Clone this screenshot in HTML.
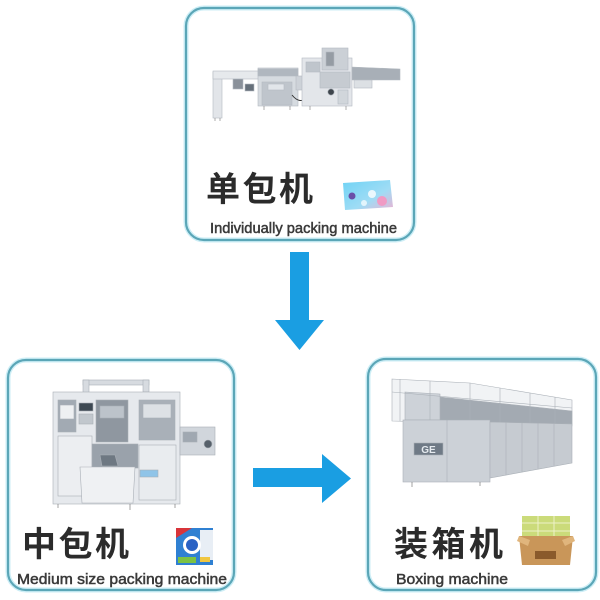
<!DOCTYPE html>
<html><head><meta charset="utf-8"><style>
html,body{margin:0;padding:0;background:#fff;width:600px;height:600px;overflow:hidden}
svg{display:block}
.cn{font-family:"Liberation Sans","Noto Sans CJK SC",sans-serif;font-weight:700;font-size:34px;fill:#2b2b2b}
.en{font-family:"Liberation Sans","Noto Sans CJK SC",sans-serif;font-size:14.5px;fill:#3a3a3a;stroke:#3a3a3a;stroke-width:0.5px}
</style></head><body>
<svg width="600" height="600" viewBox="0 0 600 600" xmlns="http://www.w3.org/2000/svg">
<defs>
<linearGradient id="tis" x1="0" y1="0" x2="1" y2="1"><stop offset="0" stop-color="#6fd3f5"/><stop offset="0.6" stop-color="#9fdcf5"/><stop offset="1" stop-color="#e9b3d3"/></linearGradient>
</defs>
<!-- boxes -->
<g fill="none">
<rect x="186" y="8" width="228" height="232" rx="18" stroke="#cdeef6" stroke-width="5"/>
<rect x="186" y="8" width="228" height="232" rx="18" stroke="#5ba6b7" stroke-width="2.2"/>
<rect x="8" y="360" width="226" height="230" rx="18" stroke="#cdeef6" stroke-width="5"/>
<rect x="8" y="360" width="226" height="230" rx="18" stroke="#5ba6b7" stroke-width="2.2"/>
<rect x="368" y="359" width="228" height="231" rx="18" stroke="#cdeef6" stroke-width="5"/>
<rect x="368" y="359" width="228" height="231" rx="18" stroke="#5ba6b7" stroke-width="2.2"/>
</g>
<!-- arrows -->
<polygon points="290,252 309,252 309,320 324,320 299.5,350 275,320 290,320" fill="#1a9ee2"/>
<polygon points="253,468 322,468 322,454 351,478.5 322,503 322,487 253,487" fill="#1a9ee2"/>

<!-- top machine -->
<g stroke="#b4bac1" stroke-width="0.6">
<rect x="213" y="72" width="9" height="46" fill="#e2e5e9"/>
<line x1="215" y1="118" x2="215" y2="121" stroke="#777"/><line x1="220" y1="118" x2="220" y2="121" stroke="#777"/>
<rect x="213" y="71" width="47" height="8" fill="#e6e9ec"/>
<rect x="233" y="79" width="10" height="10" fill="#8a919a"/>
<rect x="245" y="84" width="9" height="7" fill="#66707a"/>
<rect x="258" y="68" width="40" height="38" fill="#d6dbe0"/>
<rect x="258" y="69" width="40" height="7" fill="#b0b7bf"/>
<rect x="262" y="82" width="30" height="23" fill="#bfc5cc"/>
<rect x="268" y="84" width="16" height="6" fill="#e2e6ea"/>
<line x1="264" y1="106" x2="264" y2="110" stroke="#777"/><line x1="290" y1="106" x2="290" y2="110" stroke="#777"/>
<rect x="296" y="76" width="10" height="14" fill="#cdd2d8"/>
<path d="M292 95 Q300 105 308 97" fill="none" stroke="#333" stroke-width="1"/>
<rect x="302" y="58" width="50" height="48" fill="#e3e6ea"/>
<rect x="322" y="48" width="26" height="22" fill="#cbd0d6"/>
<rect x="326" y="52" width="8" height="14" fill="#959ca4"/>
<rect x="306" y="62" width="14" height="10" fill="#bfc5cc"/>
<rect x="320" y="72" width="30" height="16" fill="#c6cbd1"/>
<circle cx="331" cy="92" r="3.2" fill="#3e454c"/>
<rect x="338" y="90" width="10" height="14" fill="#d1d6db"/>
<line x1="310" y1="106" x2="310" y2="110" stroke="#777"/><line x1="346" y1="106" x2="346" y2="110" stroke="#777"/>
<polygon points="352,67 400,69 400,80 352,80" fill="#a8afb7"/>
<rect x="354" y="80" width="18" height="8" fill="#dce0e4"/>
</g>

<!-- bottom-left machine -->
<g stroke="#a9afb6" stroke-width="0.6">
<rect x="83" y="380" width="66" height="5" fill="#d7dbe0"/>
<rect x="83" y="380" width="6" height="16" fill="#d7dbe0"/>
<rect x="143" y="380" width="6" height="12" fill="#d7dbe0"/>
<rect x="53" y="392" width="127" height="112" fill="#e6e9ed"/>
<rect x="58" y="400" width="18" height="32" fill="#a2aab3"/>
<rect x="60" y="405" width="14" height="14" fill="#eef0f2"/>
<rect x="79" y="403" width="14" height="8" fill="#3d4852"/>
<rect x="79" y="414" width="14" height="10" fill="#c1c7cd"/>
<rect x="96" y="400" width="32" height="42" fill="#8f97a0"/>
<rect x="100" y="406" width="24" height="12" fill="#bcc3ca"/>
<rect x="139" y="400" width="36" height="40" fill="#a9b0b8"/>
<rect x="143" y="404" width="28" height="14" fill="#dde1e5"/>
<rect x="58" y="436" width="34" height="60" fill="#eceef1"/>
<rect x="139" y="445" width="37" height="55" fill="#e9ecef"/>
<rect x="92" y="444" width="46" height="24" fill="#9aa2ab"/>
<rect x="180" y="427" width="35" height="28" fill="#d1d6dc"/>
<rect x="183" y="432" width="14" height="10" fill="#a0a8b1"/>
<circle cx="208" cy="444" r="4" fill="#56606a"/>
<polygon points="80,467 135,467 133,503 82,503" fill="#eff1f3"/>
<polygon points="100,455 115,455 118,466 102,466" fill="#6e7882"/>
<rect x="140" y="470" width="18" height="7" fill="#8fc4e8"/>
<line x1="58" y1="504" x2="58" y2="508" stroke="#666"/><line x1="130" y1="504" x2="130" y2="510" stroke="#666"/><line x1="175" y1="504" x2="175" y2="508" stroke="#666"/>
</g>

<!-- bottom-right machine -->
<g stroke="#aab0b7" stroke-width="0.6">
<polygon points="392,379 470,383 572,400 572,426 392,421" fill="#f1f3f5"/>
<polygon points="440,397 572,411 572,424 440,422" fill="#a3aab2"/>
<polygon points="405,392 440,394 440,420 405,420" fill="#cdd2d8"/>
<line x1="400" y1="379" x2="400" y2="421"/><line x1="430" y1="381" x2="430" y2="421"/><line x1="470" y1="383" x2="470" y2="422"/>
<line x1="500" y1="388" x2="500" y2="423"/><line x1="530" y1="393" x2="530" y2="424"/><line x1="555" y1="397" x2="555" y2="425"/>
<line x1="392" y1="392" x2="572" y2="408"/>
<rect x="403" y="420" width="87" height="62" fill="#ccd1d7"/>
<line x1="447" y1="420" x2="447" y2="482"/>
<rect x="414" y="443" width="29" height="12" fill="#6f7a86"/>
<text x="428.5" y="453" font-family="Liberation Sans,sans-serif" font-size="10" font-weight="700" fill="#e6ebf0" stroke="none" text-anchor="middle">GE</text>
<polygon points="490,422 572,424 572,463 490,478" fill="#c6cbd1"/>
<line x1="506" y1="422" x2="506" y2="475"/><line x1="522" y1="423" x2="522" y2="472"/><line x1="538" y1="423" x2="538" y2="469"/><line x1="554" y1="424" x2="554" y2="466"/>
<line x1="412" y1="482" x2="412" y2="487" stroke="#666"/><line x1="480" y1="482" x2="480" y2="486" stroke="#666"/>
</g>

<!-- icons -->
<polygon points="343,183 390,180 393,207 345,210" fill="url(#tis)"/>
<circle cx="352" cy="196" r="3.5" fill="#6a4fa8"/>
<circle cx="372" cy="194" r="4" fill="#ffffff" opacity="0.8"/>
<circle cx="382" cy="201" r="5" fill="#f09ac4"/>
<circle cx="364" cy="203" r="3" fill="#ffffff" opacity="0.7"/>

<rect x="176" y="528" width="37" height="37" fill="#2f80d2"/>
<polygon points="176,528 192,528 176,538" fill="#d8343a"/>
<rect x="200" y="530" width="13" height="30" fill="#e8eef5"/>
<circle cx="192" cy="545" r="9" fill="#ffffff"/>
<circle cx="192" cy="545" r="6" fill="#2a62c4"/>
<rect x="178" y="557" width="18" height="6" fill="#7cc243"/>
<rect x="200" y="557" width="10" height="5" fill="#f0c640"/>

<rect x="522" y="516" width="48" height="24" fill="#cbdb7a"/>
<line x1="522" y1="523" x2="570" y2="523" stroke="#eef2c8" stroke-width="1"/>
<line x1="522" y1="531" x2="570" y2="531" stroke="#eef2c8" stroke-width="1"/>
<line x1="538" y1="516" x2="538" y2="540" stroke="#eef2c8" stroke-width="1"/>
<line x1="554" y1="516" x2="554" y2="540" stroke="#eef2c8" stroke-width="1"/>
<polygon points="519,536 573,536 570,565 522,565" fill="#c99659"/>
<polygon points="519,536 530,540 528,546 517,541" fill="#e0b57c"/>
<polygon points="573,536 562,540 565,546 575,541" fill="#e0b57c"/>
<rect x="535" y="551" width="21" height="8" fill="#8a5a2b"/>

<!-- labels -->
<text class="cn" x="206" y="201" textLength="107" lengthAdjust="spacing">单包机</text>
<text class="en" x="210" y="233" textLength="187" lengthAdjust="spacingAndGlyphs">Individually packing machine</text>
<text class="cn" x="22" y="556" textLength="107" lengthAdjust="spacing">中包机</text>
<text class="en" x="17" y="584" textLength="210" lengthAdjust="spacingAndGlyphs">Medium size packing machine</text>
<text class="cn" x="394" y="556" textLength="109" lengthAdjust="spacing">装箱机</text>
<text class="en" x="396" y="584" textLength="112" lengthAdjust="spacingAndGlyphs">Boxing machine</text>
</svg>
</body></html>
